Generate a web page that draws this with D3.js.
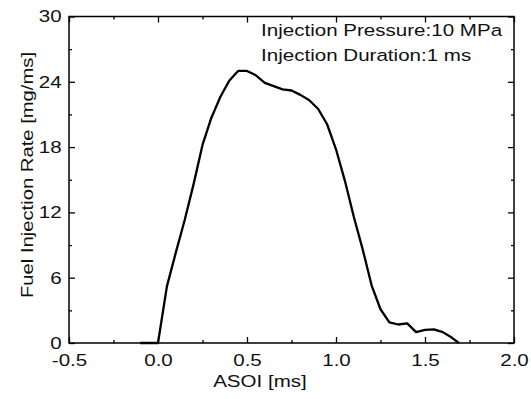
<!DOCTYPE html>
<html>
<head>
<meta charset="utf-8">
<script src="https://cdn.jsdelivr.net/npm/d3@7"></script>
<style>
  body { margin: 0; background: #fff; }
  text { font-family: "Liberation Sans", Arial, sans-serif; fill: #111; }
</style>
</head>
<body>
<div id="chart"></div>
<script>
// ASOI [ms] and injection rate [mg/ms]
var asoi = [-0.1, 0.0, 0.05, 0.1, 0.15, 0.2, 0.25, 0.3, 0.35, 0.4, 0.45, 0.5,
            0.55, 0.6, 0.65, 0.7, 0.75, 0.8, 0.85, 0.9, 0.95, 1.0, 1.05, 1.1,
            1.15, 1.2, 1.25, 1.3, 1.35, 1.4, 1.45, 1.5, 1.55, 1.6, 1.65, 1.69];
var rate = [0, 0, 5.2, 8.3, 11.3, 14.6, 18.2, 20.7, 22.6, 24.1, 25.0, 25.0,
            24.6, 23.9, 23.6, 23.3, 23.2, 22.8, 22.3, 21.5, 20.1, 17.8, 14.9, 11.6,
            8.6, 5.3, 3.1, 1.9, 1.7, 1.8, 1.0, 1.2, 1.25, 1.0, 0.5, 0];

var xTicks = [-0.5, 0, 0.5, 1.0, 1.5, 2.0];
var xMinor = [-0.25, 0.25, 0.75, 1.25, 1.75];
var yTicks = [0, 6, 12, 18, 24, 30];
var yMinor = [3, 9, 15, 21, 27];
var notes = ['Injection Pressure:10 MPa', 'Injection Duration:1 ms'];

var width = 531, height = 399;
var pLeft = 69, pRight = 514, pTop = 16.5, pBottom = 343;
// the reference lettering is wide for its height, so widen along the text
var stretch = 'scale(1.21,1)';
var fontSize = 17;

var svg = d3.select('#chart').append('svg')
   .attr('width', width)
   .attr('height', height);

var x = d3.scaleLinear().domain([-0.5, 2.0]).range([pLeft, pRight]);
var y = d3.scaleLinear().domain([0, 30]).range([pBottom, pTop]);

function clean(g) {
   g.select('.domain').remove();
   g.selectAll('line').attr('stroke', '#000').attr('stroke-width', 1.3);
}

// bottom axis with labels
svg.append('g')
   .attr('transform', 'translate(0,' + pBottom + ')')
   .call(d3.axisBottom(x).tickValues(xTicks).tickSizeInner(-6).tickSizeOuter(0)
      .tickPadding(11).tickFormat(function (d) { return d.toFixed(1); }))
   .call(clean)
   .selectAll('text')
   .attr('transform', stretch)
   .style('font-size', fontSize + 'px');

svg.append('g')
   .attr('transform', 'translate(0,' + pBottom + ')')
   .call(d3.axisBottom(x).tickValues(xMinor).tickSizeInner(-3).tickSizeOuter(0).tickFormat(''))
   .call(clean);

// top axis, ticks only
svg.append('g')
   .attr('transform', 'translate(0,' + pTop + ')')
   .call(d3.axisTop(x).tickValues(xTicks).tickSizeInner(-6).tickSizeOuter(0).tickFormat(''))
   .call(clean);
svg.append('g')
   .attr('transform', 'translate(0,' + pTop + ')')
   .call(d3.axisTop(x).tickValues(xMinor).tickSizeInner(-3).tickSizeOuter(0).tickFormat(''))
   .call(clean);

// left axis with labels
svg.append('g')
   .attr('transform', 'translate(' + pLeft + ',0)')
   .call(d3.axisLeft(y).tickValues(yTicks).tickSizeInner(-6).tickSizeOuter(0).tickPadding(6))
   .call(clean)
   .selectAll('text')
   .attr('transform', stretch)
   .style('font-size', fontSize + 'px');

svg.append('g')
   .attr('transform', 'translate(' + pLeft + ',0)')
   .call(d3.axisLeft(y).tickValues(yMinor).tickSizeInner(-3).tickSizeOuter(0).tickFormat(''))
   .call(clean);

// right axis, ticks only
svg.append('g')
   .attr('transform', 'translate(' + pRight + ',0)')
   .call(d3.axisRight(y).tickValues(yTicks).tickSizeInner(-6).tickSizeOuter(0).tickFormat(''))
   .call(clean);
svg.append('g')
   .attr('transform', 'translate(' + pRight + ',0)')
   .call(d3.axisRight(y).tickValues(yMinor).tickSizeInner(-3).tickSizeOuter(0).tickFormat(''))
   .call(clean);

// frame
svg.append('rect')
   .attr('x', pLeft).attr('y', pTop)
   .attr('width', pRight - pLeft).attr('height', pBottom - pTop)
   .attr('fill', 'none')
   .attr('stroke', '#000')
   .attr('stroke-width', 1.5);

// curve
var pts = asoi.map(function (d, i) { return [d, rate[i]]; });
svg.append('path')
   .datum(pts)
   .attr('fill', 'none')
   .attr('stroke', '#000')
   .attr('stroke-width', 2.3)
   .attr('stroke-linejoin', 'round')
   .attr('d', d3.line()
      .x(function (d) { return x(d[0]); })
      .y(function (d) { return y(d[1]); }));

// annotations
svg.selectAll('.note').data(notes)
   .enter().append('g')
   .attr('transform', function (d, i) { return 'translate(261,' + (36 + i * 24.7) + ')'; })
   .append('text')
   .attr('transform', stretch)
   .style('font-size', fontSize + 'px')
   .text(function (d) { return d; });

// axis titles
svg.append('g')
   .attr('transform', 'translate(260,387)')
   .append('text')
   .attr('transform', stretch)
   .attr('text-anchor', 'middle')
   .style('font-size', fontSize + 'px')
   .text('ASOI [ms]');

svg.append('g')
   .attr('transform', 'translate(33,175) rotate(-90)')
   .append('text')
   .attr('transform', 'scale(1.19,1)')
   .attr('text-anchor', 'middle')
   .style('font-size', fontSize + 'px')
   .text('Fuel Injection Rate [mg/ms]');
</script>
</body>
</html>
